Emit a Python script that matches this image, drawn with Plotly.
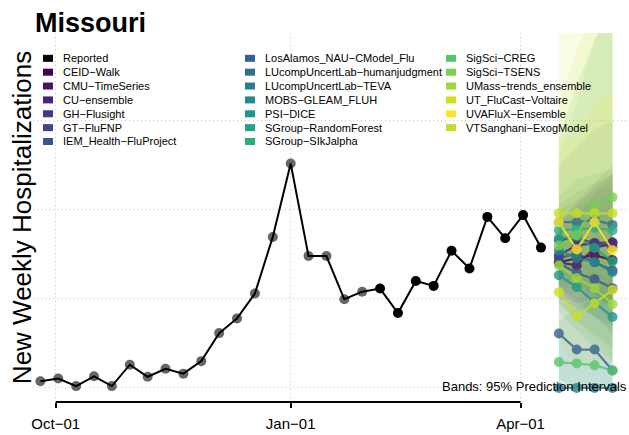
import plotly.graph_objects as go
import pandas as pd

# ---------------- data ----------------
reported_dates = pd.date_range("2022-09-25", periods=29, freq="7D")
reported_values = [15, 21, 4, 26, 4, 52, 25, 43, 32, 60, 123, 156, 212, 339, 504,
                   296, 296, 199, 216, 223, 168, 240, 229, 308, 268, 384, 336, 388, 315]
n_preliminary = 19  # first points drawn in grey

forecast_dates = pd.date_range("2023-04-16", periods=4, freq="7D")

models = ["CEID-Walk", "CMU-TimeSeries", "CU-ensemble", "GH-Flusight", "GT-FluFNP",
          "IEM_Health-FluProject", "LosAlamos_NAU-CModel_Flu",
          "LUcompUncertLab-humanjudgment", "LUcompUncertLab-TEVA", "MOBS-GLEAM_FLUH",
          "PSI-DICE", "SGroup-RandomForest", "SGroup-SIkJalpha", "SigSci-CREG",
          "SigSci-TSENS", "UMass-trends_ensemble", "UT_FluCast-Voltaire",
          "UVAFluX-Ensemble", "VTSanghani-ExogModel"]

model_colors = ["#440154", "#481467", "#482576", "#453781", "#3F4788", "#39568C",
                "#33638D", "#2D718E", "#287D8E", "#238A8D", "#1F968B", "#20A386",
                "#29AF7F", "#56C667", "#75D054", "#A0DA39", "#CFE11C", "#FDE725",
                "#C2DF23"]

median = {
    "CEID-Walk": [282, 291, 298, 287],
    "CMU-TimeSeries": [282, 275, 314, 325],
    "CU-ensemble": [298, 320, 325, 327],
    "GH-Flusight": [332, 336, 325, 316],
    "GT-FluFNP": [291, 302, 282, 264],
    "IEM_Health-FluProject": [280, 258, 244, 224],
    "LosAlamos_NAU-CModel_Flu": [122, 86, 86, 39],
    "LUcompUncertLab-humanjudgment": [372, 372, 377, 366],
    "LUcompUncertLab-TEVA": [0, 0, 0, 0],
    "MOBS-GLEAM_FLUH": [309, 291, 282, 260],
    "PSI-DICE": [253, 226, 192, 159],
    "SGroup-RandomForest": [336, 341, 314, 284],
    "SGroup-SIkJalpha": [354, 356, 359, 354],
    "SigSci-CREG": [58, 55, 51, 39],
    "SigSci-TSENS": [320, 343, 411, 428],
    "UMass-trends_ensemble": [275, 246, 224, 188],
    "UT_FluCast-Voltaire": [215, 161, 190, 220],
    "UVAFluX-Ensemble": [372, 311, 372, 309],
    "VTSanghani-ExogModel": [392, 392, 392, 392],
}

lower95 = {
    "CEID-Walk": [200, 180, 160, 140],
    "CMU-TimeSeries": [210, 190, 200, 190],
    "CU-ensemble": [230, 220, 200, 180],
    "GH-Flusight": [260, 240, 210, 180],
    "GT-FluFNP": [220, 200, 160, 120],
    "IEM_Health-FluProject": [190, 150, 120, 90],
    "LosAlamos_NAU-CModel_Flu": [20, 0, 0, 0],
    "LUcompUncertLab-humanjudgment": [250, 230, 210, 190],
    "LUcompUncertLab-TEVA": [0, 0, 0, 0],
    "MOBS-GLEAM_FLUH": [230, 190, 160, 130],
    "PSI-DICE": [170, 130, 90, 60],
    "SGroup-RandomForest": [250, 230, 190, 150],
    "SGroup-SIkJalpha": [260, 230, 210, 190],
    "SigSci-CREG": [0, 0, 0, 0],
    "SigSci-TSENS": [220, 210, 230, 220],
    "UMass-trends_ensemble": [190, 150, 110, 70],
    "UT_FluCast-Voltaire": [100, 50, 60, 60],
    "UVAFluX-Ensemble": [270, 200, 240, 180],
    "VTSanghani-ExogModel": [300, 290, 280, 270],
}

upper95 = {
    "CEID-Walk": [370, 410, 450, 480],
    "CMU-TimeSeries": [360, 370, 440, 470],
    "CU-ensemble": [370, 420, 460, 500],
    "GH-Flusight": [410, 440, 460, 480],
    "GT-FluFNP": [370, 410, 420, 430],
    "IEM_Health-FluProject": [380, 380, 390, 400],
    "LosAlamos_NAU-CModel_Flu": [260, 250, 260, 240],
    "LUcompUncertLab-humanjudgment": [500, 540, 580, 600],
    "LUcompUncertLab-TEVA": [150, 180, 200, 220],
    "MOBS-GLEAM_FLUH": [400, 420, 440, 450],
    "PSI-DICE": [340, 330, 320, 300],
    "SGroup-RandomForest": [430, 470, 480, 490],
    "SGroup-SIkJalpha": [560, 680, 780, 880],
    "SigSci-CREG": [190, 200, 210, 220],
    "SigSci-TSENS": [520, 640, 780, 860],
    "UMass-trends_ensemble": [360, 360, 360, 340],
    "UT_FluCast-Voltaire": [820, 900, 980, 1050],
    "UVAFluX-Ensemble": [560, 560, 640, 660],
    "VTSanghani-ExogModel": [640, 760, 860, 960],
}

x_tick_dates = ["2022-10-01", "2023-01-01", "2023-04-01"]
x_tick_labels = ["Oct\u221201", "Jan\u221201", "Apr\u221201"]
x_range = ["2022-09-22 02:40", "2023-05-13 11:17"]
y_range = [-31.7, 796.9]
y_grid_step = 200

# ---------------- helpers ----------------
W, H = 629, 435
ML, MR, MT, MB = 33, 0, 33, 33.3
PW, PH = W - ML - MR, H - MT - MB


def hex_rgba(h, a):
    h = h.lstrip("#")
    return "rgba(%d,%d,%d,%.3f)" % (int(h[0:2], 16), int(h[2:4], 16), int(h[4:6], 16), a)


def px_x(p):
    return (p - ML) / PW


def px_y(p):
    return (H - MB - p) / PH


def date_to_paper(d):
    r0, r1 = pd.Timestamp(x_range[0]), pd.Timestamp(x_range[1])
    return (pd.Timestamp(d) - r0) / (r1 - r0)


FONT = "Liberation Sans, Arial, Helvetica, sans-serif"

fig = go.Figure()

# prediction bands
fc_x = list(forecast_dates) + list(forecast_dates[::-1])
for m, c in zip(models, model_colors):
    fig.add_trace(go.Scatter(
        x=fc_x, y=upper95[m] + lower95[m][::-1], fill="toself",
        fillcolor=hex_rgba(c, 0.11), line=dict(width=0), mode="lines",
        hoverinfo="skip", showlegend=False))

# reported data
point_colors = ["rgba(0,0,0,0.6)"] * n_preliminary + ["#000000"] * (len(reported_values) - n_preliminary)
fig.add_trace(go.Scatter(x=reported_dates, y=reported_values, mode="markers",
                         marker=dict(size=10, color=point_colors), showlegend=False, name="Reported"))
fig.add_trace(go.Scatter(x=reported_dates, y=reported_values, mode="lines",
                         line=dict(color="black", width=2), showlegend=False))

# forecast medians
for m, c in zip(models, model_colors):
    fig.add_trace(go.Scatter(x=forecast_dates, y=median[m], mode="lines+markers",
                             line=dict(color=c, width=2.2), marker=dict(size=10, color=c),
                             opacity=0.8, name=m, showlegend=False))

shapes = []
annotations = []

# x axis line between first and last tick
shapes.append(dict(type="line", xref="paper", yref="paper",
                   x0=date_to_paper(x_tick_dates[0]), x1=date_to_paper(x_tick_dates[-1]),
                   y0=0, y1=0, line=dict(color="black", width=2)))

# title
annotations.append(dict(text="<b>Missouri</b>", xref="paper", yref="paper",
                        x=px_x(33), y=px_y(23), xanchor="left", yanchor="middle",
                        showarrow=False, font=dict(size=27, color="black", family=FONT)))
# y title
annotations.append(dict(text="New Weekly Hospitalizations", xref="paper", yref="paper",
                        x=px_x(22), y=px_y(218), xanchor="center", yanchor="middle",
                        textangle=-90, showarrow=False,
                        font=dict(size=26, color="black", family=FONT)))
# bands note
annotations.append(dict(text="Bands: 95% Prediction Intervals", xref="paper", yref="paper",
                        x=px_x(629), y=px_y(386), xanchor="right", yanchor="middle",
                        showarrow=False, font=dict(size=13, color="black", family=FONT)))

# legend (3 columns)
legend_names = ["Reported"] + models
legend_colors = ["#000000"] + model_colors
col_x = [43, 245, 446]
rows_per_col = 7
for i, (nm, c) in enumerate(zip(legend_names, legend_colors)):
    col, row = divmod(i, rows_per_col)
    cy = 58.3 + 13.85 * row
    sx = col_x[col]
    shapes.append(dict(type="rect", xref="paper", yref="paper",
                       x0=px_x(sx), x1=px_x(sx + 10), y0=px_y(cy + 3.5), y1=px_y(cy - 3.5),
                       fillcolor=c, line=dict(width=0)))
    annotations.append(dict(text=nm.replace("-", "\u2212"), xref="paper", yref="paper",
                            x=px_x(sx + 18), y=px_y(cy), xanchor="left", yanchor="middle",
                            showarrow=False, font=dict(size=11, color="black", family=FONT)))

fig.update_layout(
    width=W, height=H, margin=dict(l=ML, r=MR, t=MT, b=MB),
    paper_bgcolor="white", plot_bgcolor="white", showlegend=False,
    font=dict(family=FONT, color="black"),
    shapes=shapes, annotations=annotations,
    xaxis=dict(type="date", range=x_range, tickvals=x_tick_dates, ticktext=x_tick_labels,
               showgrid=True, gridcolor="#C8C8C8", griddash="1px,3px", gridwidth=1,
               ticks="outside", ticklen=5, tickwidth=1.5, tickcolor="black",
               tickfont=dict(size=15, color="black"), ticklabelstandoff=3,
               showline=False, zeroline=False),
    yaxis=dict(range=y_range, tick0=0, dtick=y_grid_step, showticklabels=False, ticks="",
               showgrid=True, gridcolor="#C8C8C8", griddash="1px,3px", gridwidth=1,
               showline=False, zeroline=False),
)

fig.write_html("out.html", config={"displayModeBar": False},
               post_script="document.body.style.margin='0';document.body.style.overflow='hidden';")
